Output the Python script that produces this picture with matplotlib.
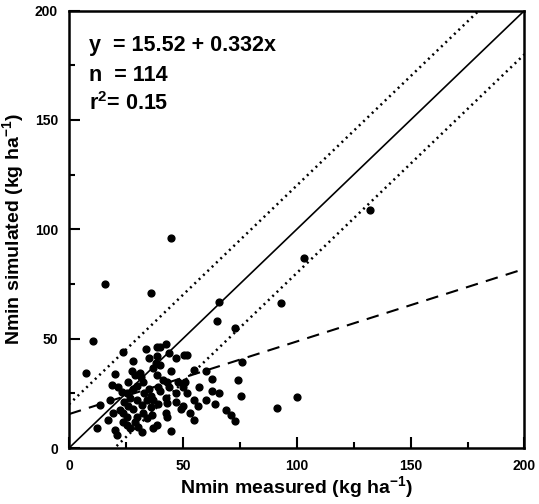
import numpy as np
import matplotlib.pyplot as plt

plt.rcParams['font.family'] = ['Liberation Sans', 'DejaVu Sans']
plt.rcParams['font.weight'] = 'bold'
plt.rcParams['mathtext.fontset'] = 'custom'
plt.rcParams['mathtext.rm'] = 'Liberation Sans:bold'
plt.rcParams['mathtext.it'] = 'Liberation Sans:bold'
plt.rcParams['mathtext.bf'] = 'Liberation Sans:bold'

# measured vs simulated Nmin (kg/ha)
nmin_measured = [
    15.9, 35.8, 10.6, 45.0, 132.0, 103.0, 93.0, 76.0, 75.5, 91.4,
    100.0, 65.8, 65.0, 73.0, 50.3, 52.0, 54.7, 60.0, 63.0, 74.0,
    63.0, 66.0, 51.0, 50.0, 52.0, 50.0, 55.0, 56.5, 55.0, 69.0,
    71.0, 73.0, 40.0, 38.8, 43.0, 46.8, 37.0, 39.0, 42.4, 43.0,
    47.0, 42.4, 43.0, 49.0, 37.0, 45.0, 7.5, 13.7, 12.3, 20.0,
    19.0, 21.6, 23.4, 27.8, 29.0, 31.3, 32.7, 25.6, 27.0, 22.5,
    23.8, 25.6, 19.4, 23.8, 25.6, 27.0, 20.0, 30.0, 32.0, 34.4,
    35.8, 32.7, 34.4, 36.6, 30.5, 32.0, 38.8, 38.0, 23.8, 34.0,
    35.0, 38.8, 40.0, 42.8, 43.7, 38.8, 47.0, 37.0, 31.8, 41.5,
    44.0, 28.0, 30.0, 26.0, 33.0, 35.0, 40.0, 24.0, 28.0, 30.0,
    17.0, 45.0, 48.0, 57.0, 60.0, 53.0, 28.0, 18.0, 64.0, 39.0,
    36.0, 26.0, 21.0, 29.0,
]
nmin_simulated = [
    74.8, 71.0, 49.0, 96.0, 109.0, 87.0, 66.5, 39.5, 24.0, 18.3,
    23.4, 67.0, 58.0, 55.0, 42.7, 42.7, 35.8, 35.0, 31.7, 31.0,
    26.0, 25.0, 30.0, 28.0, 25.0, 19.0, 22.0, 19.0, 13.0, 17.4,
    15.0, 12.5, 38.0, 33.5, 30.0, 25.0, 22.0, 20.0, 23.0, 20.6,
    21.0, 16.0, 14.0, 18.0, 9.0, 8.0, 34.4, 19.7, 9.0, 34.0,
    29.0, 28.0, 25.7, 35.0, 33.5, 34.4, 30.0, 25.0, 23.0, 17.4,
    16.0, 14.0, 16.0, 12.0, 10.5, 9.0, 8.3, 22.0, 19.7, 22.0,
    18.8, 16.0, 13.8, 15.0, 9.6, 7.3, 10.5, 39.0, 44.0, 45.4,
    41.0, 46.0, 46.0, 47.7, 43.6, 42.0, 41.0, 36.7, 32.6, 31.0,
    28.0, 27.0, 28.5, 30.0, 25.0, 27.0, 26.0, 21.0, 18.0, 14.0,
    13.0, 35.0, 30.0, 28.0, 22.0, 16.0, 40.0, 22.0, 20.0, 28.0,
    24.0, 19.0, 6.0, 12.0,
]

intercept = 15.52
slope = 0.332
band = 20.0

fig = plt.figure(figsize=(5.39, 5.04), dpi=100)
ax = fig.add_axes([0.128, 0.111, 0.845, 0.868])

xx = np.array([0.0, 200.0])
ax.plot(xx, xx, color='black', lw=1.2)
ax.plot(xx, xx + band, color='black', lw=1.8, linestyle=(0, (0.8, 1.6)))
ax.plot(xx, xx - band, color='black', lw=1.8, linestyle=(0, (0.8, 1.6)))
ax.plot(xx, intercept + slope * xx, color='black', lw=1.5, linestyle=(0, (6, 4)))
ax.scatter(nmin_measured, nmin_simulated, s=24, color='black', zorder=3)

ax.set_xlim(0, 200)
ax.set_ylim(0, 200)
ax.set_xticks([0, 50, 100, 150, 200])
ax.set_yticks([0, 50, 100, 150, 200])
ax.set_xticks([25, 75, 125, 175], minor=True)
ax.set_yticks([25, 75, 125, 175], minor=True)
ax.tick_params(which='both', direction='in', top=False, right=False, width=1.5,
               labelsize=10, pad=8)
ax.tick_params(which='major', length=8)
ax.tick_params(which='minor', length=4)
for lab in ax.get_xticklabels() + ax.get_yticklabels():
    lab.set_fontweight('bold')
for sp in ax.spines.values():
    sp.set_linewidth(1.8)

ax.set_xlabel('Nmin measured (kg ha$^{-1}$)', fontsize=14, fontweight='bold', labelpad=1)
ax.set_ylabel('Nmin simulated (kg ha$^{-1}$)', fontsize=14, fontweight='bold', labelpad=6)

ax.text(9, 184, 'y  = 15.52 + 0.332x', fontsize=15.5, fontweight='bold', va='center')
ax.text(9, 170.5, 'n  = 114', fontsize=15.5, fontweight='bold', va='center')
ax.text(9, 157.5, 'r$^2$= 0.15', fontsize=15.5, fontweight='bold', va='center')

fig.savefig('out.png', dpi=100)
